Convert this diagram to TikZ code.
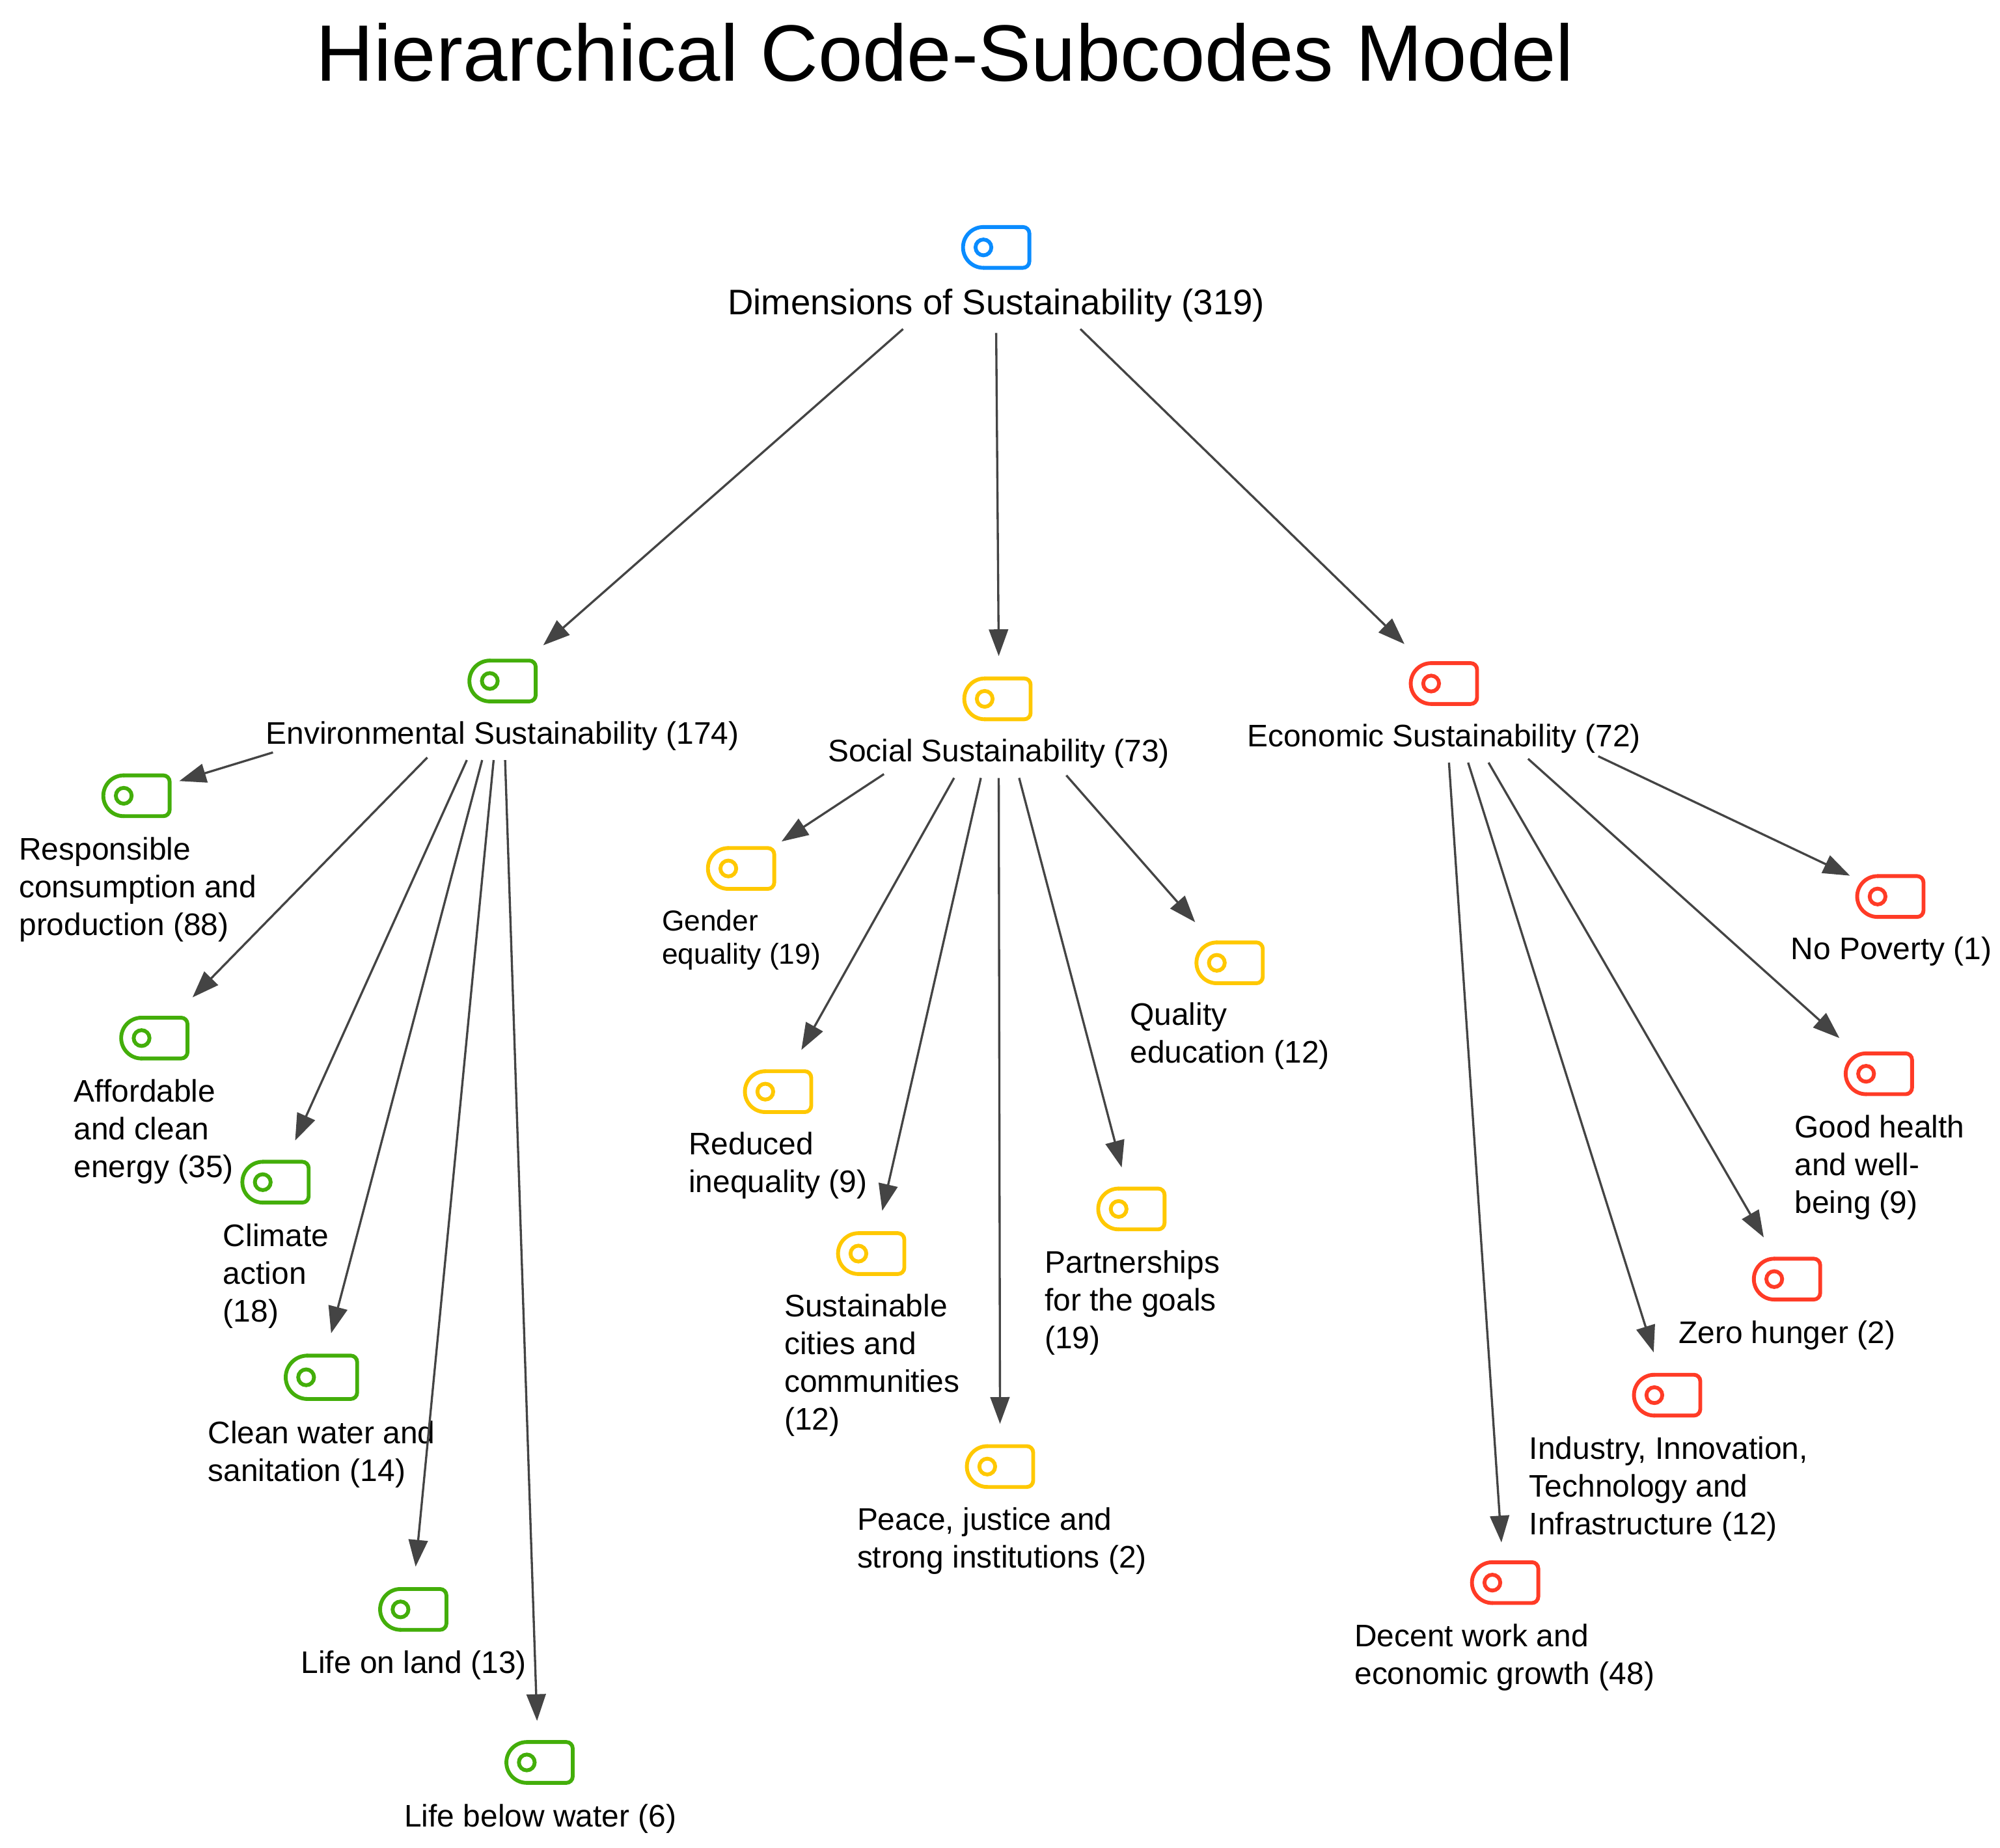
\documentclass[tikz,border=0pt]{standalone}
\usepackage{fontspec}
\setmainfont{Liberation Sans}
\usetikzlibrary{arrows.meta}
\definecolor{cblue}{HTML}{0A8CFF}
\definecolor{cgreen}{HTML}{43AE0A}
\definecolor{cyellow}{HTML}{FFC800}
\definecolor{cred}{HTML}{FF3B26}
\definecolor{cline}{HTML}{444444}
\tikzset{
  iconbox/.style={minimum width=54pt,minimum height=34pt,inner sep=0pt,outer sep=0pt},
  iconline/.style={line width=3pt},
  lbl/.style={inner sep=0pt,outer sep=0pt,anchor=west,align=left,font=\fontsize{24.45}{29.5}\selectfont,text=black},
  lblsmall/.style={lbl,font=\fontsize{22.6}{26}\selectfont},
  main/.style={inner sep=0pt,outer sep=0pt,anchor=center,align=center,text=black},
  arr/.style={draw=cline,line width=1.7pt,-{Triangle[length=21pt,width=15pt,fill=cline]},shorten <=0pt,shorten >=-1.5pt},
}
% \iconat{name}{x}{y}{colour}{half width}{half height}
\newcommand{\iconat}[6]{%
  \node[iconbox] (#1) at (#2,#3) {};
  \begin{scope}[shift={(#2,#3)}]
    \draw[iconline,#4,line cap=round,rounded corners=#6pt] (-#5+#6,-#6) -- (-#5,-#6) -- (-#5,#6) -- (-#5+#6,#6);
    \draw[iconline,#4,line cap=round,rounded corners=5pt] (-#5+#6,#6) -- (#5,#6) -- (#5,-#6) -- (-#5+#6,-#6);
    \draw[iconline,#4] (-#5+16,0) circle (6.2);
  \end{scope}}
% connector from node to node, with offsets from their centres
\newcommand{\conn}[4]{\draw[arr] ([shift={(#2)}]#1.center) -- ([shift={(#4)}]#3.center);}
\begin{document}
\begin{tikzpicture}[x=1pt,y=-1pt]
\useasboundingbox[fill=white] (0,0) rectangle (1568,1449);
\node[main,font=\fontsize{62.7}{66}\selectfont] (title) at (741,41) {Hierarchical Code-Subcodes Model};

\iconat{root}{781}{194}{cblue}{26}{16}
\node[main,font=\fontsize{27.85}{31}\selectfont] (rootl) at (781,239.5) {Dimensions of Sustainability (319)};

\iconat{env}{394}{534}{cgreen}{26}{16}
\node[main,font=\fontsize{24.45}{29.5}\selectfont] (envl) at (394,577) {Environmental Sustainability (174)};
\iconat{soc}{782}{548}{cyellow}{26}{16}
\node[main,font=\fontsize{24.45}{29.5}\selectfont] (socl) at (783,591) {Social Sustainability (73)};
\iconat{eco}{1132}{536}{cred}{26}{16}
\node[main,font=\fontsize{24.45}{29.5}\selectfont] (ecol) at (1132,579) {Economic Sustainability (72)};

\iconat{resp}{107}{624}{cgreen}{26}{16}
\node[lbl] (respl) at (15,697.5) {Responsible\\consumption and\\production (88)};
\iconat{aff}{121}{814}{cgreen}{26}{16}
\node[lbl] (affl) at (58,887.5) {Affordable\\and clean\\energy (35)};
\iconat{clim}{216}{927}{cgreen}{26}{16}
\node[lbl] (climl) at (175,1000.5) {Climate\\action\\(18)};
\iconat{clean}{252}{1080}{cgreen}{28}{17}
\node[lbl] (cleanl) at (163,1140.5) {Clean water and\\sanitation (14)};
\iconat{land}{324}{1262}{cgreen}{26}{16}
\node[lbl] (landl) at (236,1306) {Life on land (13)};
\iconat{below}{423}{1382}{cgreen}{26}{16}
\node[lbl] (belowl) at (317,1426) {Life below water (6)};

\iconat{gender}{581}{681}{cyellow}{26}{16}
\node[lblsmall] (genderl) at (519,737) {Gender\\equality (19)};
\iconat{red}{610}{856}{cyellow}{26}{16}
\node[lbl] (redl) at (540,914) {Reduced\\inequality (9)};
\iconat{sust}{683}{983}{cyellow}{26}{16}
\node[lbl] (sustl) at (615,1070.5) {Sustainable\\cities and\\communities\\(12)};
\iconat{peace}{784}{1150}{cyellow}{26}{16}
\node[lbl] (peacel) at (672,1208.5) {Peace, justice and\\strong institutions (2)};
\iconat{part}{887}{948}{cyellow}{26}{16}
\node[lbl] (partl) at (819,1021.5) {Partnerships\\for the goals\\(19)};
\iconat{qual}{964}{755}{cyellow}{26}{16}
\node[lbl] (quall) at (886,812.5) {Quality\\education (12)};

\iconat{decent}{1180}{1241}{cred}{26}{16}
\node[lbl] (decentl) at (1062,1299.5) {Decent work and\\economic growth (48)};
\iconat{ind}{1307}{1094}{cred}{26}{16}
\node[lbl] (indl) at (1199,1167.5) {Industry, Innovation,\\Technology and\\Infrastructure (12)};
\iconat{zero}{1401}{1003}{cred}{26}{16}
\node[lbl] (zerol) at (1316,1047) {Zero hunger (2)};
\iconat{good}{1473}{842}{cred}{26}{16}
\node[lbl] (goodl) at (1407,915.5) {Good health\\and well-\\being (9)};
\iconat{nop}{1482}{703}{cred}{26}{16}
\node[lbl] (nopl) at (1404,746) {No Poverty (1)};

\conn{rootl}{-73,18.5}{env}{33,-29}
\conn{rootl}{0,21.5}{soc}{1,-35}
\conn{rootl}{66,18.5}{eco}{-32,-32}

\conn{envl}{-180,13}{resp}{35,-12}
\conn{envl}{-59,17}{aff}{31,-33}
\conn{envl}{-28,19}{clim}{16,-34}
\conn{envl}{-16,19}{clean}{8,-36}
\conn{envl}{-7,19}{land}{2,-35}
\conn{envl}{2,19}{below}{-2,-34}

\conn{socl}{-90,16}{gender}{33,-22}
\conn{socl}{-35,19}{red}{19,-34}
\conn{socl}{-14,19}{sust}{9,-35}
\conn{socl}{0,19}{peace}{0,-35}
\conn{socl}{16,19}{part}{-8,-34}
\conn{socl}{53,17}{qual}{-28,-33}

\conn{ecol}{4,19}{decent}{-3,-33}
\conn{ecol}{19,19}{ind}{-11,-35}
\conn{ecol}{35,19}{zero}{-19,-34}
\conn{ecol}{66,16}{good}{-32,-29}
\conn{ecol}{121,14}{nop}{-33,-17}
\end{tikzpicture}
\end{document}
